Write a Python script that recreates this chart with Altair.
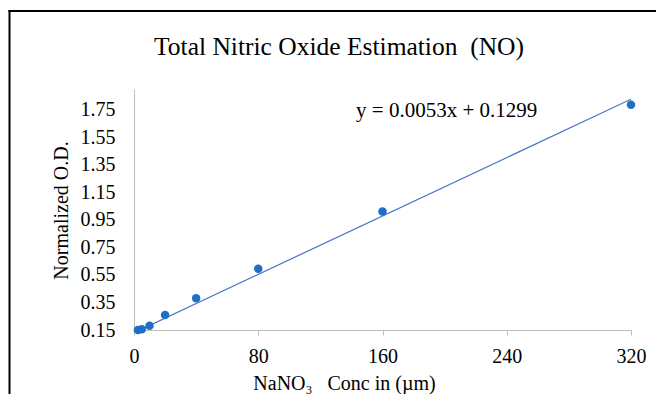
import altair as alt
import pandas as pd

# Data
conc = [2.5, 5, 10, 20, 40, 80, 160, 320]
od = [0.150, 0.155, 0.181, 0.259, 0.380, 0.594, 1.010, 1.786]

# Linear trendline as displayed: y = 0.0053x + 0.1299
slope = 0.0053
intercept = 0.1299
trend_x = [0, 320]

x_ticks = [0, 80, 160, 240, 320]
y_ticks = [0.15, 0.35, 0.55, 0.75, 0.95, 1.15, 1.35, 1.55, 1.75]

title_text = ["Total Nitric Oxide Estimation\u00a0\u00a0(NO)"]
eq_label = ["y = 0.0053x + 0.1299"]
eq_pos_x = [143]
eq_pos_y = [1.743]

FONT = "Liberation Serif"
AXIS_GREY = "#bfbfbf"

pts = pd.DataFrame({"x": conc, "y": od})
trend = pd.DataFrame({"x": trend_x})
eq = pd.DataFrame({"x": eq_pos_x, "y": eq_pos_y, "t": eq_label})
ttl = pd.DataFrame({"t": title_text})

xscale = alt.Scale(domain=[0, 320], nice=False, zero=False)
yscale = alt.Scale(domain=[0.15, 1.9], nice=False, zero=False)

xaxis = alt.Axis(
    values=x_ticks, grid=False, domainColor=AXIS_GREY, tickColor=AXIS_GREY,
    tickSize=5, labelFont=FONT, labelFontSize=20, labelColor="black",
    labelPadding=11, labelFlush=False, labelOverlap=False,
    title="NaNO₃\u00a0\u00a0\u00a0Conc in (µm)", titleFont=FONT,
    titleFontSize=20, titleFontWeight="normal", titleColor="black",
    titleX=210, titleY=59, titleBaseline="alphabetic", titleAlign="center",
)
yaxis = alt.Axis(
    values=y_ticks, grid=False, domainColor=AXIS_GREY, ticks=False, tickSize=0,
    labelFont=FONT, labelFontSize=20, labelColor="black", labelPadding=19,
    labelFlush=False, labelOverlap=False, labelSeparation=0,
    format=".2f", title="Normalized O.D.", titleFont=FONT, titleFontSize=20,
    titleFontWeight="normal", titleColor="black", titleX=-67, titleY=121,
    titleBaseline="alphabetic", titleAngle=-90, titleAlign="center",
)

line = alt.Chart(trend).mark_line(color="#4472c4", strokeWidth=1.2, clip=True).transform_calculate(
    y=f"{slope} * datum.x + {intercept}"
).encode(
    x=alt.X("x:Q", scale=xscale, axis=xaxis),
    y=alt.Y("y:Q", scale=yscale, axis=yaxis),
)

points = alt.Chart(pts).mark_circle(size=72, color="#1f6fc5", opacity=1).encode(
    x=alt.X("x:Q", scale=xscale, axis=xaxis),
    y=alt.Y("y:Q", scale=yscale, axis=yaxis),
)

eqtext = alt.Chart(eq).mark_text(
    font=FONT, fontSize=21, align="left", baseline="middle", color="black"
).encode(
    x=alt.X("x:Q", scale=xscale, axis=xaxis),
    y=alt.Y("y:Q", scale=yscale, axis=yaxis),
    text="t:N",
)

title = alt.Chart(ttl).mark_text(
    font=FONT, fontSize=25.5, align="center", baseline="alphabetic", color="black"
).encode(x=alt.value(205), y=alt.value(-34.4), text="t:N")

# outer chart frame (left and top edges visible in the reference)
frame_left = alt.Chart(pd.DataFrame({"a": [0]})).mark_rule(color="black", strokeWidth=2).encode(
    x=alt.value(-124.5), y=alt.value(-79), y2=alt.value(305)
)
frame_top = alt.Chart(pd.DataFrame({"a": [0]})).mark_rule(color="black", strokeWidth=2).encode(
    x=alt.value(-125.5), x2=alt.value(522), y=alt.value(-78)
)

chart = alt.layer(line, points, eqtext, title, frame_left, frame_top).properties(
    width=497,
    height=241,
    autosize=alt.AutoSizeParams(type="none"),
    padding={"left": 126, "top": 81, "right": 26, "bottom": 64},
).configure_view(stroke=None).configure_axis(labelOverlap=False)

chart.save("out.html", embed_options={"renderer": "svg", "actions": False})
